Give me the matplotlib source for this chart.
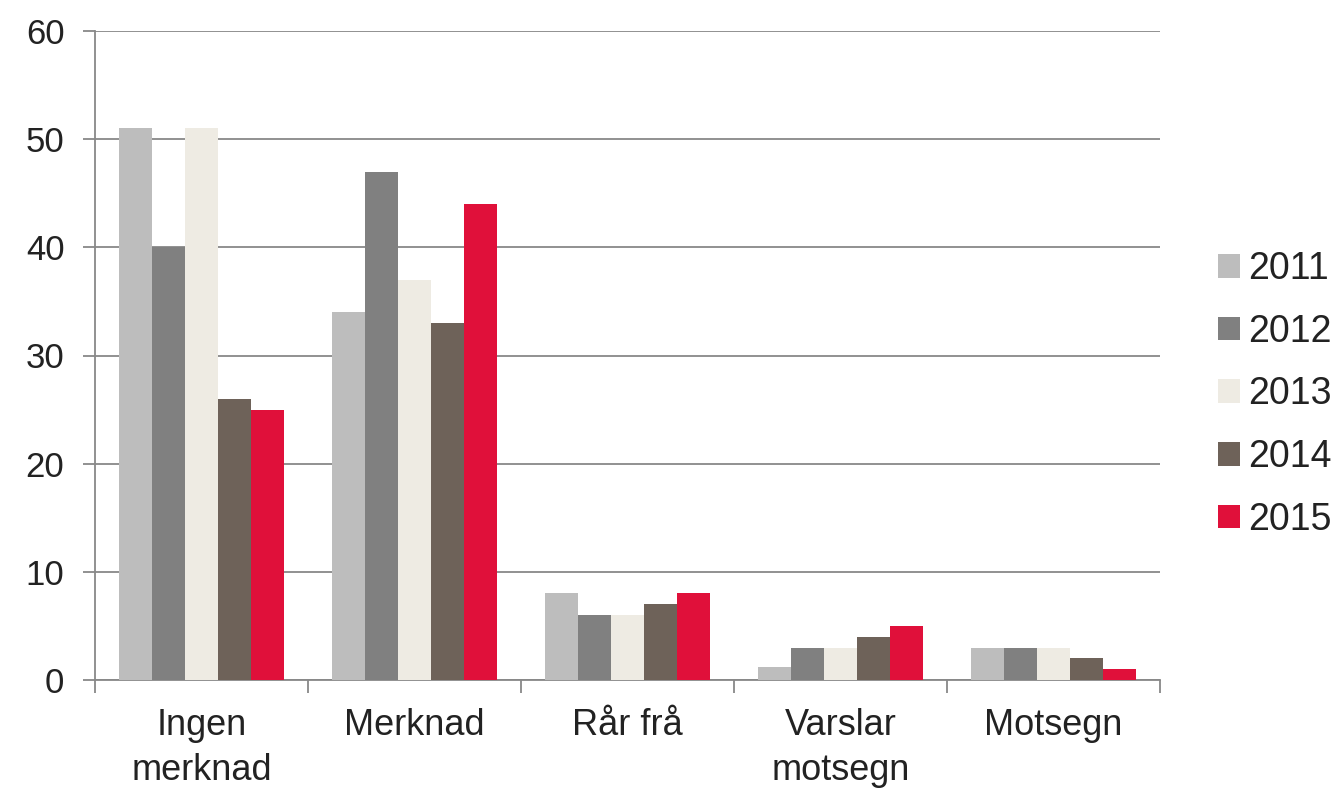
import matplotlib
matplotlib.use("Agg")
import matplotlib.pyplot as plt
import numpy as np

categories = ["Ingen\nmerknad", "Merknad", "Rår frå", "Varslar\nmotsegn", "Motsegn"]
years = ["2011", "2012", "2013", "2014", "2015"]
values = {
    "2011": [51, 34, 8, 1.2, 3],
    "2012": [40, 47, 6, 3, 3],
    "2013": [51, 37, 6, 3, 3],
    "2014": [26, 33, 7, 4, 2],
    "2015": [25, 44, 8, 5, 1],
}
colors = ["#BDBDBD", "#808080", "#EEEBE3", "#6E6259", "#E0103A"]

plt.rcParams['font.family'] = ['Liberation Sans', 'DejaVu Sans']
fig = plt.figure(figsize=(13.37, 7.90), dpi=100)
ax = fig.add_axes([95/1337, 1 - 680/790, (1160-95)/1337, (680-31)/790])

n = len(years)
x = np.arange(len(categories))
group = 0.77
w = group / n
for i, yr in enumerate(years):
    ax.bar(x - group/2 + w*(i+0.5), values[yr], width=w, color=colors[i], label=yr, zorder=3)

ax.set_xlim(-0.5, len(categories)-0.5)
ax.set_ylim(0, 60)
ax.set_yticks(range(0, 61, 10))
ax.yaxis.grid(True, color="#888888", linewidth=1.3, zorder=0)
ax.set_axisbelow(True)
ax.set_xticks(x)
ax.set_xticklabels(categories, fontsize=26, linespacing=1.37, color="#222222")
ax.set_xticks(np.arange(-0.5, len(categories), 1), minor=True)
ax.tick_params(axis='x', which='major', length=0, pad=20)
ax.tick_params(axis='x', which='minor', length=9, color="#888888", width=1.3)
ax.tick_params(axis='y', labelsize=25, length=9, color="#888888", width=1.3, pad=13,
               labelcolor="#222222")
for s in ["top", "right"]:
    ax.spines[s].set_visible(False)
for s in ["left", "bottom"]:
    ax.spines[s].set_color("#888888")
    ax.spines[s].set_linewidth(1.3)

leg = ax.legend(loc="center left", bbox_to_anchor=(1.0545, 0.44), frameon=False, fontsize=27,
                handlelength=0.59, handleheight=0.59, handletextpad=0.21, labelspacing=0.71,
                borderpad=0, borderaxespad=0)
for t in leg.get_texts():
    t.set_color("#222222")

fig.savefig("out.png", dpi=100)
